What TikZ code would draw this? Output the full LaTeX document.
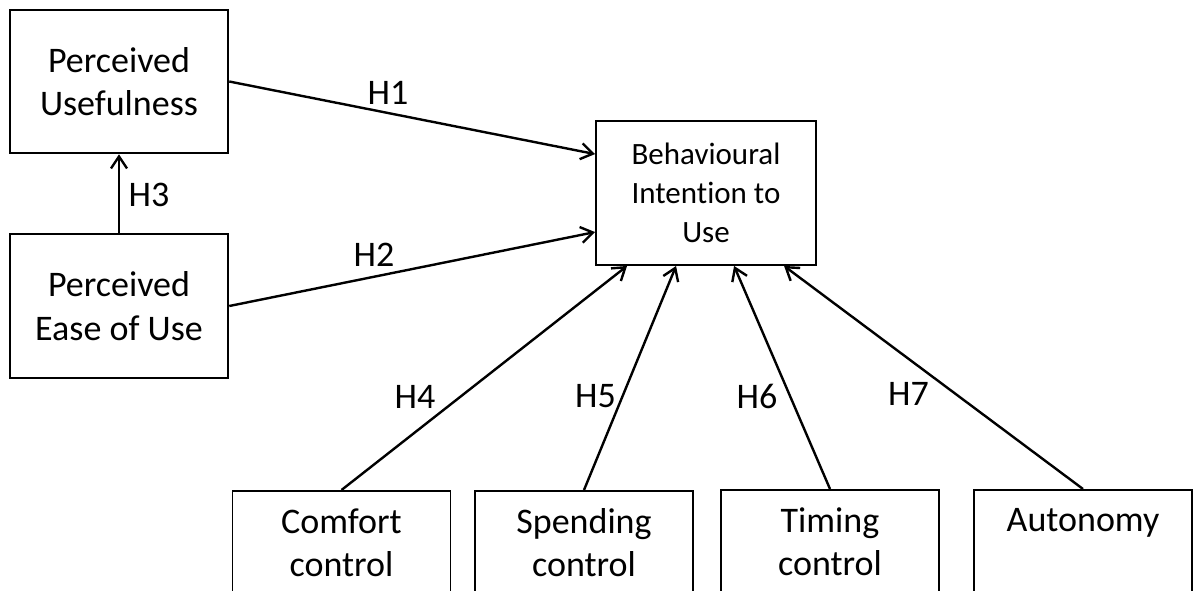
\documentclass[tikz,border=0pt]{standalone}
\usepackage{fontspec}
\setmainfont{Carlito}[Ligatures=NoCommon]
\usepackage{tikz}
\usetikzlibrary{calc}
\usetikzlibrary{arrows.meta}

\begin{document}
\begin{tikzpicture}[x=0.75pt, y=-0.75pt,
		>={Straight Barb[length=9pt,width=12pt]},
		box/.style={draw, line width=1.4pt, align=center, inner sep=0pt, font=\fontsize{27}{32.5}\selectfont},
		hyp/.style={inner sep=0pt, font=\fontsize{27}{32.5}\selectfont},
		link/.style={->, line width=1.8pt}]

		\useasboundingbox (0,0) rectangle (1195,590);
		\clip (0,0) rectangle (1195,590);

		\begin{scope}[every node/.style={box, minimum width=163.5pt}]
		\node[line width=1.9pt, minimum height=107.25pt] (pu) at (119, 81.5) {Perceived\\Usefulness};
		\node[line width=1.9pt, minimum height=108pt] (peu) at (119, 306) {Perceived\\Ease of Use};
		\node[minimum width=165pt, minimum height=108pt, font=\fontsize{23.25}{29}\selectfont] (bi) at (706, 193) {Behavioural\\Intention to\\Use};

		%% bottom row, cut off by the page edge
		\node[anchor=north, minimum height=78pt] (cc) at (341.5, 490) {Comfort\\control};
		\node[anchor=north, minimum height=78pt] (sc) at (584, 490) {Spending\\control};
		\node[anchor=north, minimum height=78pt] (tc) at (830, 489) {Timing\\control};
		\node[anchor=north, minimum height=78pt] (au) at (1083, 489) {Autonomy\\\mbox{}};
		\end{scope}

		\draw[link] (pu.east) -- ($(bi.north west)+(0,34)$);
		\draw[link] (peu.east) -- ($(bi.north west)+(0,112)$);
		\draw[link] (peu.north) -- (pu.south);

		\foreach \n/\d in {cc/32,sc/81,tc/139,au/189}
			\draw[link] (\n.north) -- ($(bi.south west)+(\d,0)$);

		\node[hyp] (h1) at (388, 92.5) {H1};
		\node[hyp] (h2) at (374, 254.5) {H2};
		\node[hyp] (h3) at (149, 195) {H3};
		\node[hyp] (h4) at (415, 396.5) {H4};
		\node[hyp] (h5) at (595.5, 396.5) {H5};
		\node[hyp] (h6) at (757, 396.5) {H6};
		\node[hyp] (h7) at (908.5, 394) {H7};

	\end{tikzpicture}
\end{document}
